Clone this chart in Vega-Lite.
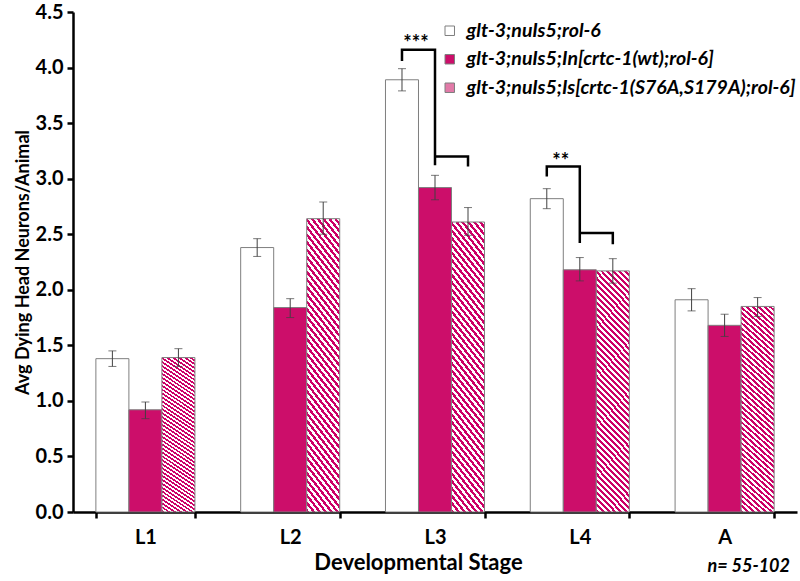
{
  "$schema": "https://vega.github.io/schema/vega-lite/v6.json",
  "width": 724,
  "height": 500,
  "autosize": {"type": "none"},
  "padding": {"left": 73, "top": 12, "right": 3, "bottom": 69},
  "background": "white",
  "config": {"font": "Lato", "view": {"stroke": null}},
  "title": {"text": "n= 55-102", "orient": "bottom", "anchor": "end", "font": "Lato", "fontSize": 18, "fontWeight": "bold", "fontStyle": "italic", "color": "#000000", "offset": -15, "dx": -7},
  "datasets": {
    "bars": [
      {"stage": "L1", "series": "glt-3;nuIs5;rol-6", "v": 1.38, "lo": 1.31, "hi": 1.45},
      {"stage": "L1", "series": "glt-3;nuIs5;In[crtc-1(wt);rol-6]", "v": 0.92, "lo": 0.84, "hi": 0.99},
      {"stage": "L1", "series": "glt-3;nuIs5;Is[crtc-1(S76A,S179A);rol-6]", "v": 1.39, "lo": 1.31, "hi": 1.47},
      {"stage": "L2", "series": "glt-3;nuIs5;rol-6", "v": 2.38, "lo": 2.30, "hi": 2.46},
      {"stage": "L2", "series": "glt-3;nuIs5;In[crtc-1(wt);rol-6]", "v": 1.84, "lo": 1.75, "hi": 1.92},
      {"stage": "L2", "series": "glt-3;nuIs5;Is[crtc-1(S76A,S179A);rol-6]", "v": 2.64, "lo": 2.50, "hi": 2.79},
      {"stage": "L3", "series": "glt-3;nuIs5;rol-6", "v": 3.89, "lo": 3.79, "hi": 3.99},
      {"stage": "L3", "series": "glt-3;nuIs5;In[crtc-1(wt);rol-6]", "v": 2.92, "lo": 2.81, "hi": 3.03},
      {"stage": "L3", "series": "glt-3;nuIs5;Is[crtc-1(S76A,S179A);rol-6]", "v": 2.61, "lo": 2.49, "hi": 2.74},
      {"stage": "L4", "series": "glt-3;nuIs5;rol-6", "v": 2.82, "lo": 2.73, "hi": 2.91},
      {"stage": "L4", "series": "glt-3;nuIs5;In[crtc-1(wt);rol-6]", "v": 2.18, "lo": 2.08, "hi": 2.29},
      {"stage": "L4", "series": "glt-3;nuIs5;Is[crtc-1(S76A,S179A);rol-6]", "v": 2.17, "lo": 2.06, "hi": 2.28},
      {"stage": "A", "series": "glt-3;nuIs5;rol-6", "v": 1.91, "lo": 1.81, "hi": 2.01},
      {"stage": "A", "series": "glt-3;nuIs5;In[crtc-1(wt);rol-6]", "v": 1.68, "lo": 1.58, "hi": 1.78},
      {"stage": "A", "series": "glt-3;nuIs5;Is[crtc-1(S76A,S179A);rol-6]", "v": 1.85, "lo": 1.76, "hi": 1.93}
    ],
    "brackets": [
      {"id": "b1", "ord": 1, "stage": "L3", "series": "glt-3;nuIs5;rol-6", "y": 4.07},
      {"id": "b1", "ord": 2, "stage": "L3", "series": "glt-3;nuIs5;rol-6", "y": 4.16},
      {"id": "b1", "ord": 3, "stage": "L3", "series": "glt-3;nuIs5;In[crtc-1(wt);rol-6]", "y": 4.16},
      {"id": "b1", "ord": 4, "stage": "L3", "series": "glt-3;nuIs5;In[crtc-1(wt);rol-6]", "y": 3.12},
      {"id": "b1", "ord": 5, "stage": "L3", "series": "glt-3;nuIs5;In[crtc-1(wt);rol-6]", "y": 3.20},
      {"id": "b1", "ord": 6, "stage": "L3", "series": "glt-3;nuIs5;Is[crtc-1(S76A,S179A);rol-6]", "y": 3.20},
      {"id": "b1", "ord": 7, "stage": "L3", "series": "glt-3;nuIs5;Is[crtc-1(S76A,S179A);rol-6]", "y": 3.12},
      {"id": "b2", "ord": 1, "stage": "L4", "series": "glt-3;nuIs5;rol-6", "y": 3.03},
      {"id": "b2", "ord": 2, "stage": "L4", "series": "glt-3;nuIs5;rol-6", "y": 3.11},
      {"id": "b2", "ord": 3, "stage": "L4", "series": "glt-3;nuIs5;In[crtc-1(wt);rol-6]", "y": 3.11},
      {"id": "b2", "ord": 4, "stage": "L4", "series": "glt-3;nuIs5;In[crtc-1(wt);rol-6]", "y": 2.42},
      {"id": "b2", "ord": 5, "stage": "L4", "series": "glt-3;nuIs5;In[crtc-1(wt);rol-6]", "y": 2.51},
      {"id": "b2", "ord": 6, "stage": "L4", "series": "glt-3;nuIs5;Is[crtc-1(S76A,S179A);rol-6]", "y": 2.51},
      {"id": "b2", "ord": 7, "stage": "L4", "series": "glt-3;nuIs5;Is[crtc-1(S76A,S179A);rol-6]", "y": 2.42}
    ],
    "stars": [
      {"stage": "L3", "series": "glt-3;nuIs5;rol-6", "y": 4.21, "label": "***"},
      {"stage": "L4", "series": "glt-3;nuIs5;rol-6", "y": 3.15, "label": "**"}
    ]
  },
  "encoding": {
    "x": {"field": "stage", "type": "nominal", "sort": ["L1", "L2", "L3", "L4", "A"],
      "scale": {"paddingInner": 0.316, "paddingOuter": 0.158},
      "axis": {"title": "Developmental Stage", "titleX": 345, "labelAngle": 0, "domainColor": "#000000", "domainWidth": 2.5, "tickBand": "extent", "tickColor": "#000000", "tickWidth": 2.5, "tickSize": 6, "labelFont": "Lato", "labelFontSize": 20, "labelFontWeight": "bold", "labelColor": "#000000", "labelPadding": 9, "titleFont": "Lato", "titleFontSize": 22, "titleFontWeight": "bold", "titleColor": "#000000", "titlePadding": 5}},
    "xOffset": {"field": "series", "type": "nominal", "sort": ["glt-3;nuIs5;rol-6", "glt-3;nuIs5;In[crtc-1(wt);rol-6]", "glt-3;nuIs5;Is[crtc-1(S76A,S179A);rol-6]"], "scale": {"paddingInner": 0, "paddingOuter": 0}}
  },
  "layer": [
    {
      "data": {"name": "bars"},
      "mark": {"type": "bar", "stroke": "#7f7f7f", "strokeWidth": 1},
      "encoding": {
        "y": {"field": "v", "type": "quantitative", "scale": {"domain": [0, 4.5], "nice": false},
          "axis": {"title": "Avg Dying Head Neurons/Animal", "values": [0, 0.5, 1, 1.5, 2, 2.5, 3, 3.5, 4, 4.5], "format": ".1f", "grid": false, "domainColor": "#000000", "domainWidth": 2.5, "tickColor": "#000000", "tickWidth": 2.5, "tickSize": 6, "labelFont": "Lato", "labelFontSize": 20, "labelFontWeight": "bold", "labelColor": "#000000", "labelPadding": 4, "titleFont": "Lato", "titleFontSize": 18, "titleFontWeight": "bold", "titleColor": "#000000", "titlePadding": 3}},
        "fill": {"field": "series", "type": "nominal",
          "sort": ["glt-3;nuIs5;rol-6", "glt-3;nuIs5;In[crtc-1(wt);rol-6]", "glt-3;nuIs5;Is[crtc-1(S76A,S179A);rol-6]"],
          "scale": {"domain": ["glt-3;nuIs5;rol-6", "glt-3;nuIs5;In[crtc-1(wt);rol-6]", "glt-3;nuIs5;Is[crtc-1(S76A,S179A);rol-6]"], "range": ["#ffffff", "#cc0e6a", "#e27aa8"]},
          "condition": {"test": "datum.series === 'glt-3;nuIs5;Is[crtc-1(S76A,S179A);rol-6]'",
            "value": {"gradient": "linear", "x1": 0, "y1": 1, "x2": 0.16, "y2": -0.12, "stops": [
{"offset":0,"color":"#c06"},
{"offset":0.0111,"color":"#c06"},{"offset":0.0111,"color":"#fff"},{"offset":0.0222,"color":"#fff"},{"offset":0.0222,"color":"#c06"},
{"offset":0.0333,"color":"#c06"},{"offset":0.0333,"color":"#fff"},{"offset":0.0444,"color":"#fff"},{"offset":0.0444,"color":"#c06"},
{"offset":0.0556,"color":"#c06"},{"offset":0.0556,"color":"#fff"},{"offset":0.0667,"color":"#fff"},{"offset":0.0667,"color":"#c06"},
{"offset":0.0778,"color":"#c06"},{"offset":0.0778,"color":"#fff"},{"offset":0.0889,"color":"#fff"},{"offset":0.0889,"color":"#c06"},
{"offset":0.1,"color":"#c06"},{"offset":0.1,"color":"#fff"},{"offset":0.1111,"color":"#fff"},{"offset":0.1111,"color":"#c06"},
{"offset":0.1222,"color":"#c06"},{"offset":0.1222,"color":"#fff"},{"offset":0.1333,"color":"#fff"},{"offset":0.1333,"color":"#c06"},
{"offset":0.1444,"color":"#c06"},{"offset":0.1444,"color":"#fff"},{"offset":0.1556,"color":"#fff"},{"offset":0.1556,"color":"#c06"},
{"offset":0.1667,"color":"#c06"},{"offset":0.1667,"color":"#fff"},{"offset":0.1778,"color":"#fff"},{"offset":0.1778,"color":"#c06"},
{"offset":0.1889,"color":"#c06"},{"offset":0.1889,"color":"#fff"},{"offset":0.2,"color":"#fff"},{"offset":0.2,"color":"#c06"},
{"offset":0.2111,"color":"#c06"},{"offset":0.2111,"color":"#fff"},{"offset":0.2222,"color":"#fff"},{"offset":0.2222,"color":"#c06"},
{"offset":0.2333,"color":"#c06"},{"offset":0.2333,"color":"#fff"},{"offset":0.2444,"color":"#fff"},{"offset":0.2444,"color":"#c06"},
{"offset":0.2556,"color":"#c06"},{"offset":0.2556,"color":"#fff"},{"offset":0.2667,"color":"#fff"},{"offset":0.2667,"color":"#c06"},
{"offset":0.2778,"color":"#c06"},{"offset":0.2778,"color":"#fff"},{"offset":0.2889,"color":"#fff"},{"offset":0.2889,"color":"#c06"},
{"offset":0.3,"color":"#c06"},{"offset":0.3,"color":"#fff"},{"offset":0.3111,"color":"#fff"},{"offset":0.3111,"color":"#c06"},
{"offset":0.3222,"color":"#c06"},{"offset":0.3222,"color":"#fff"},{"offset":0.3333,"color":"#fff"},{"offset":0.3333,"color":"#c06"},
{"offset":0.3444,"color":"#c06"},{"offset":0.3444,"color":"#fff"},{"offset":0.3556,"color":"#fff"},{"offset":0.3556,"color":"#c06"},
{"offset":0.3667,"color":"#c06"},{"offset":0.3667,"color":"#fff"},{"offset":0.3778,"color":"#fff"},{"offset":0.3778,"color":"#c06"},
{"offset":0.3889,"color":"#c06"},{"offset":0.3889,"color":"#fff"},{"offset":0.4,"color":"#fff"},{"offset":0.4,"color":"#c06"},
{"offset":0.4111,"color":"#c06"},{"offset":0.4111,"color":"#fff"},{"offset":0.4222,"color":"#fff"},{"offset":0.4222,"color":"#c06"},
{"offset":0.4333,"color":"#c06"},{"offset":0.4333,"color":"#fff"},{"offset":0.4444,"color":"#fff"},{"offset":0.4444,"color":"#c06"},
{"offset":0.4556,"color":"#c06"},{"offset":0.4556,"color":"#fff"},{"offset":0.4667,"color":"#fff"},{"offset":0.4667,"color":"#c06"},
{"offset":0.4778,"color":"#c06"},{"offset":0.4778,"color":"#fff"},{"offset":0.4889,"color":"#fff"},{"offset":0.4889,"color":"#c06"},
{"offset":0.5,"color":"#c06"},{"offset":0.5,"color":"#fff"},{"offset":0.5111,"color":"#fff"},{"offset":0.5111,"color":"#c06"},
{"offset":0.5222,"color":"#c06"},{"offset":0.5222,"color":"#fff"},{"offset":0.5333,"color":"#fff"},{"offset":0.5333,"color":"#c06"},
{"offset":0.5444,"color":"#c06"},{"offset":0.5444,"color":"#fff"},{"offset":0.5556,"color":"#fff"},{"offset":0.5556,"color":"#c06"},
{"offset":0.5667,"color":"#c06"},{"offset":0.5667,"color":"#fff"},{"offset":0.5778,"color":"#fff"},{"offset":0.5778,"color":"#c06"},
{"offset":0.5889,"color":"#c06"},{"offset":0.5889,"color":"#fff"},{"offset":0.6,"color":"#fff"},{"offset":0.6,"color":"#c06"},
{"offset":0.6111,"color":"#c06"},{"offset":0.6111,"color":"#fff"},{"offset":0.6222,"color":"#fff"},{"offset":0.6222,"color":"#c06"},
{"offset":0.6333,"color":"#c06"},{"offset":0.6333,"color":"#fff"},{"offset":0.6444,"color":"#fff"},{"offset":0.6444,"color":"#c06"},
{"offset":0.6556,"color":"#c06"},{"offset":0.6556,"color":"#fff"},{"offset":0.6667,"color":"#fff"},{"offset":0.6667,"color":"#c06"},
{"offset":0.6778,"color":"#c06"},{"offset":0.6778,"color":"#fff"},{"offset":0.6889,"color":"#fff"},{"offset":0.6889,"color":"#c06"},
{"offset":0.7,"color":"#c06"},{"offset":0.7,"color":"#fff"},{"offset":0.7111,"color":"#fff"},{"offset":0.7111,"color":"#c06"},
{"offset":0.7222,"color":"#c06"},{"offset":0.7222,"color":"#fff"},{"offset":0.7333,"color":"#fff"},{"offset":0.7333,"color":"#c06"},
{"offset":0.7444,"color":"#c06"},{"offset":0.7444,"color":"#fff"},{"offset":0.7556,"color":"#fff"},{"offset":0.7556,"color":"#c06"},
{"offset":0.7667,"color":"#c06"},{"offset":0.7667,"color":"#fff"},{"offset":0.7778,"color":"#fff"},{"offset":0.7778,"color":"#c06"},
{"offset":0.7889,"color":"#c06"},{"offset":0.7889,"color":"#fff"},{"offset":0.8,"color":"#fff"},{"offset":0.8,"color":"#c06"},
{"offset":0.8111,"color":"#c06"},{"offset":0.8111,"color":"#fff"},{"offset":0.8222,"color":"#fff"},{"offset":0.8222,"color":"#c06"},
{"offset":0.8333,"color":"#c06"},{"offset":0.8333,"color":"#fff"},{"offset":0.8444,"color":"#fff"},{"offset":0.8444,"color":"#c06"},
{"offset":0.8556,"color":"#c06"},{"offset":0.8556,"color":"#fff"},{"offset":0.8667,"color":"#fff"},{"offset":0.8667,"color":"#c06"},
{"offset":0.8778,"color":"#c06"},{"offset":0.8778,"color":"#fff"},{"offset":0.8889,"color":"#fff"},{"offset":0.8889,"color":"#c06"},
{"offset":0.9,"color":"#c06"},{"offset":0.9,"color":"#fff"},{"offset":0.9111,"color":"#fff"},{"offset":0.9111,"color":"#c06"},
{"offset":0.9222,"color":"#c06"},{"offset":0.9222,"color":"#fff"},{"offset":0.9333,"color":"#fff"},{"offset":0.9333,"color":"#c06"},
{"offset":0.9444,"color":"#c06"},{"offset":0.9444,"color":"#fff"},{"offset":0.9556,"color":"#fff"},{"offset":0.9556,"color":"#c06"},
{"offset":0.9667,"color":"#c06"},{"offset":0.9667,"color":"#fff"},{"offset":0.9778,"color":"#fff"},{"offset":0.9778,"color":"#c06"},
{"offset":0.9889,"color":"#c06"},{"offset":0.9889,"color":"#fff"},{"offset":1,"color":"#fff"}
            ]}},
          "legend": {"title": null, "orient": "none", "legendX": 367, "legendY": 9, "padding": 0, "symbolType": "square", "symbolSize": 90, "symbolStrokeColor": "#7f7f7f", "symbolStrokeWidth": 1, "labelFont": "Lato", "labelFontSize": 19.5, "labelFontWeight": "bold", "labelFontStyle": "italic", "labelColor": "#000000", "labelLimit": 500, "labelOffset": 7, "rowPadding": 7.5,
            "encode": {"symbols": {"update": {"fill": [
              {"test": "datum.value === 'glt-3;nuIs5;Is[crtc-1(S76A,S179A);rol-6]'", "value": {"gradient": "linear", "x1": 0, "y1": 1, "x2": 1, "y2": 0, "stops": [{"offset":0,"color":"#c06"},{"offset":0.125,"color":"#c06"},{"offset":0.125,"color":"#fff"},{"offset":0.25,"color":"#fff"},{"offset":0.25,"color":"#c06"},{"offset":0.375,"color":"#c06"},{"offset":0.375,"color":"#fff"},{"offset":0.5,"color":"#fff"},{"offset":0.5,"color":"#c06"},{"offset":0.625,"color":"#c06"},{"offset":0.625,"color":"#fff"},{"offset":0.75,"color":"#fff"},{"offset":0.75,"color":"#c06"},{"offset":0.875,"color":"#c06"},{"offset":0.875,"color":"#fff"},{"offset":1,"color":"#fff"}]}},
              {"scale": "fill", "field": "value"}
            ], "stroke": {"value": "#7f7f7f"}, "opacity": {"value": 1}}}}
          }
        }
      }
    },
    {
      "data": {"name": "bars"},
      "mark": {"type": "rule", "color": "#404040", "strokeWidth": 1},
      "encoding": {
        "y": {"field": "lo", "type": "quantitative"},
        "y2": {"field": "hi"}
      }
    },
    {
      "data": {"name": "bars"},
      "mark": {"type": "tick", "color": "#404040", "thickness": 1, "size": 8, "orient": "horizontal"},
      "encoding": {"y": {"field": "lo", "type": "quantitative"}}
    },
    {
      "data": {"name": "bars"},
      "mark": {"type": "tick", "color": "#404040", "thickness": 1, "size": 8, "orient": "horizontal"},
      "encoding": {"y": {"field": "hi", "type": "quantitative"}}
    },
    {
      "data": {"name": "brackets"},
      "mark": {"type": "line", "color": "#000000", "strokeWidth": 2.5, "strokeCap": "square"},
      "encoding": {
        "y": {"field": "y", "type": "quantitative"},
        "detail": {"field": "id"},
        "order": {"field": "ord", "type": "quantitative"}
      }
    },
    {
      "data": {"name": "stars"},
      "mark": {"type": "text", "font": "Lato", "fontSize": 20, "fontWeight": "bold", "color": "#000000", "dx": 14, "baseline": "middle"},
      "encoding": {
        "y": {"field": "y", "type": "quantitative"},
        "text": {"field": "label"}
      }
    }
  ]
}
